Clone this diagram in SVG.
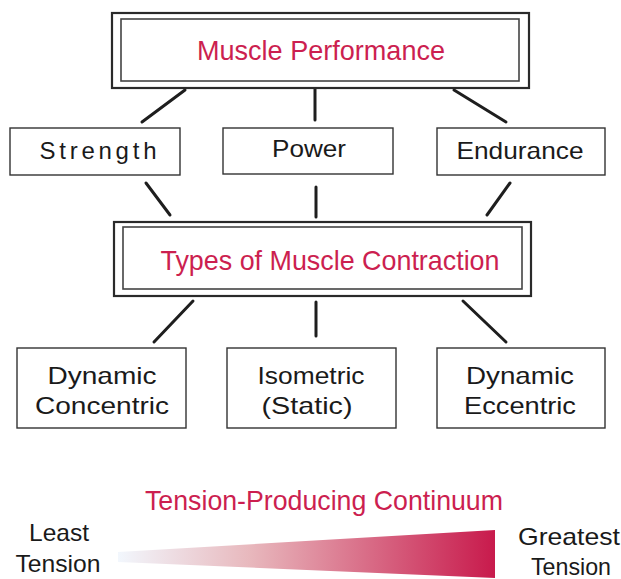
<svg xmlns="http://www.w3.org/2000/svg" width="621" height="579" viewBox="0 0 621 579">
<style>
.box{fill:#fff;stroke:#333;stroke-width:1.4}
.outer{fill:#fff;stroke:#2a2a2a;stroke-width:2.2}
.inner{fill:none;stroke:#444;stroke-width:1.6}
.t{font-family:"Liberation Sans",Arial,sans-serif;font-size:24px;fill:#1a1a1a;text-anchor:middle}
.h{font-family:"Liberation Sans",Arial,sans-serif;font-size:28px;fill:#cc1f50;text-anchor:middle}
.c line{stroke:#1e1e1e;stroke-width:3;stroke-linecap:round}
</style>
<defs>
<linearGradient id="g" x1="118" y1="0" x2="495" y2="0" gradientUnits="userSpaceOnUse">
<stop offset="0" stop-color="#f2f7fd"/>
<stop offset="0.35" stop-color="#e8b8bd"/>
<stop offset="1" stop-color="#c81a4c"/>
</linearGradient>
</defs>
<rect width="621" height="579" fill="#fff"/>
<g class="c" id="connectors">
<line x1="185" y1="90" x2="142" y2="122"/>
<line x1="315" y1="89" x2="315" y2="120"/>
<line x1="454" y1="90" x2="506" y2="122"/>
<line x1="146" y1="183" x2="170" y2="215"/>
<line x1="316" y1="187" x2="316" y2="217"/>
<line x1="510" y1="183" x2="487" y2="215"/>
<line x1="193" y1="301" x2="154" y2="342"/>
<line x1="316" y1="302" x2="316" y2="336"/>
<line x1="463" y1="301" x2="506" y2="342"/>
</g>
<g id="muscle-performance">
<rect class="outer" x="112" y="13" width="417" height="75"/>
<rect class="inner" x="121" y="19" width="398" height="62"/>
<text class="h" x="321" y="60" textLength="248" lengthAdjust="spacingAndGlyphs">Muscle Performance</text>
</g>
<g id="strength">
<rect class="box" x="10" y="128" width="170" height="47"/>
<text class="t" x="98" y="159" textLength="117" lengthAdjust="spacing">Strength</text>
</g>
<g id="power">
<rect class="box" x="223" y="128" width="170" height="46"/>
<text class="t" x="309" y="157" textLength="74" lengthAdjust="spacingAndGlyphs">Power</text>
</g>
<g id="endurance">
<rect class="box" x="437" y="128" width="168" height="47"/>
<text class="t" x="520" y="159" textLength="127" lengthAdjust="spacingAndGlyphs">Endurance</text>
</g>
<g id="types">
<rect class="outer" x="114" y="222" width="417" height="74"/>
<rect class="inner" x="123" y="227" width="399" height="62"/>
<text class="h" x="330" y="270" textLength="339" lengthAdjust="spacingAndGlyphs">Types of Muscle Contraction</text>
</g>
<g id="dynamic-concentric">
<rect class="box" x="17" y="348" width="169" height="80"/>
<text class="t" x="102" y="384" textLength="109" lengthAdjust="spacingAndGlyphs">Dynamic</text>
<text class="t" x="102" y="414" textLength="134" lengthAdjust="spacingAndGlyphs">Concentric</text>
</g>
<g id="isometric">
<rect class="box" x="227" y="348" width="169" height="80"/>
<text class="t" x="311" y="384" textLength="107" lengthAdjust="spacingAndGlyphs">Isometric</text>
<text class="t" x="307" y="414" textLength="91" lengthAdjust="spacingAndGlyphs">(Static)</text>
</g>
<g id="dynamic-eccentric">
<rect class="box" x="437" y="348" width="168" height="80"/>
<text class="t" x="520" y="384" textLength="108" lengthAdjust="spacingAndGlyphs">Dynamic</text>
<text class="t" x="520" y="414" textLength="112" lengthAdjust="spacingAndGlyphs">Eccentric</text>
</g>
<g id="continuum">
<text class="h" x="324" y="510" font-size="26" textLength="358" lengthAdjust="spacingAndGlyphs">Tension-Producing Continuum</text>
<polygon points="118,552 495,530 495,578 118,562" fill="url(#g)"/>
<text class="t" x="59" y="541" textLength="60" lengthAdjust="spacingAndGlyphs">Least</text>
<text class="t" x="58" y="572" textLength="85" lengthAdjust="spacingAndGlyphs">Tension</text>
<text class="t" x="569" y="545" textLength="102" lengthAdjust="spacingAndGlyphs">Greatest</text>
<text class="t" x="571" y="575" textLength="80" lengthAdjust="spacingAndGlyphs">Tension</text>
</g>
</svg>
